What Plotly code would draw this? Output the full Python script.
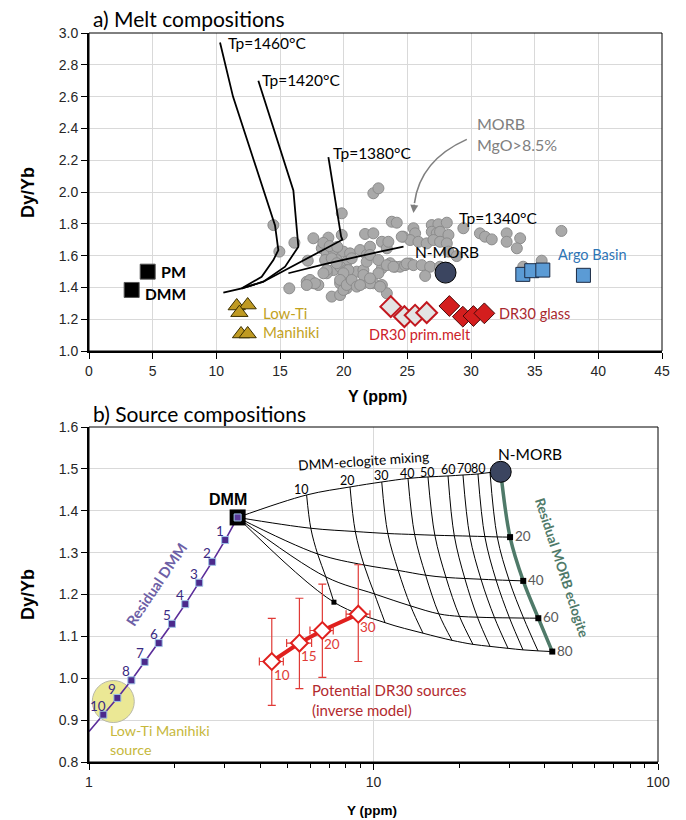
import math
import plotly.graph_objects as go

W, H = 686, 820

# ================= Panel a: melt compositions =================
# Tp melting paths (Y ppm, Dy/Yb)
tp1460_Y = [10.29, 11.31, 14.61, 14.87, 14.48, 13.56, 12.00, 10.55]
tp1460_R = [2.940, 2.600, 1.790, 1.635, 1.572, 1.467, 1.394, 1.367]
tp1420_Y = [13.30, 16.05, 16.44, 15.40, 13.69, 12.00]
tp1420_R = [2.700, 2.010, 1.656, 1.530, 1.436, 1.394]
tp1380_Y = [18.80, 19.80, 19.90, 18.60, 16.97, 13.69, 12.00]
tp1380_R = [2.220, 1.720, 1.700, 1.645, 1.572, 1.436, 1.394]
tp1340_Y = [15.66, 18.67, 22.86, 24.70]
tp1340_R = [1.489, 1.550, 1.625, 1.656]

# MORB MgO>8.5% (grey dots)
morb_Y = [14.48, 14.95, 16.13, 19.85, 19.85, 17.18, 17.62, 18.80, 15.73, 21.68,
          22.33, 22.33, 22.73, 18.28, 18.67, 19.19, 19.98, 20.50, 18.54, 19.46,
          20.24, 21.29, 21.81, 19.19, 19.72, 20.24, 21.03, 21.55, 17.10, 17.62,
          18.01, 18.67, 19.72, 20.24, 20.50, 21.55, 22.33, 19.06, 19.72, 19.98,
          19.06, 19.46, 20.63, 20.37, 19.98, 18.67, 18.41, 19.72, 20.24, 20.63,
          21.03, 17.36, 17.75, 17.10, 18.40, 18.90, 19.50, 23.78, 24.17, 25.48,
          25.61, 23.00, 23.39, 22.07, 21.81, 23.65, 24.04, 24.43, 24.82, 25.20,
          23.00, 22.73, 21.55, 22.07, 23.00, 21.29, 24.69, 25.22, 26.92, 27.44,
          28.10, 26.92, 27.31, 27.57, 28.23, 29.40, 30.70, 31.10, 31.63, 32.80,
          33.86, 32.80, 33.60, 35.55, 37.10, 34.10, 23.51, 24.56, 25.87, 26.52,
          27.05, 27.57, 28.10, 28.23, 28.88, 22.07, 22.73, 23.39, 23.91, 24.96,
          25.48, 26.13, 26.79, 27.57, 22.07, 26.40, 23.39, 22.86]
morb_R = [1.792, 1.625, 1.681, 1.866, 1.730, 1.568, 1.709, 1.713, 1.394, 1.736,
          1.740, 1.992, 2.023, 1.646, 1.614, 1.635, 1.625, 1.614, 1.572, 1.572,
          1.562, 1.635, 1.604, 1.509, 1.530, 1.509, 1.499, 1.509, 1.436, 1.426,
          1.415, 1.489, 1.426, 1.394, 1.426, 1.426, 1.426, 1.342, 1.352, 1.384,
          1.583, 1.552, 1.583, 1.509, 1.489, 1.509, 1.489, 1.447, 1.415, 1.447,
          1.405, 1.447, 1.426, 1.415, 1.680, 1.660, 1.655, 1.813, 1.807, 1.772,
          1.740, 1.687, 1.646, 1.656, 1.562, 1.552, 1.530, 1.530, 1.540, 1.550,
          1.520, 1.489, 1.478, 1.426, 1.415, 1.415, 1.719, 1.698, 1.792, 1.797,
          1.807, 1.750, 1.740, 1.750, 1.730, 1.772, 1.740, 1.719, 1.702, 1.740,
          1.709, 1.687, 1.646, 1.568, 1.755, 1.530, 1.687, 1.719, 1.687, 1.677,
          1.698, 1.687, 1.677, 1.625, 1.597, 1.604, 1.572, 1.540, 1.530, 1.550,
          1.540, 1.540, 1.530, 1.530, 1.457, 1.472, 1.363, 1.405]

pm_Y, pm_R = [4.61], [1.499]
dmm_a_Y, dmm_a_R = [3.35], [1.384]
nmorb_Y, nmorb_R = 28.0, 1.493
lowti_Y = [11.60, 12.46, 11.81, 11.94, 12.46]
lowti_R = [1.283, 1.289, 1.241, 1.107, 1.107]
prim_Y = [23.70, 24.77, 25.61, 26.52]
prim_R = [1.279, 1.216, 1.225, 1.241]
glass_Y = [28.30, 29.36, 30.19, 31.05]
glass_R = [1.283, 1.216, 1.220, 1.237]
argo_Y = [34.07, 34.77, 35.64, 38.83]
argo_R = [1.482, 1.505, 1.509, 1.476]

# ================= Panel b: source compositions =================
dmm_Y, dmm_R = 3.33, 1.384
resdmm_lab = ["1", "2", "3", "4", "5", "6", "7", "8", "9", "10"]
resdmm_Y = [3.01, 2.71, 2.44, 2.18, 1.957, 1.758, 1.569, 1.409, 1.258, 1.123]
resdmm_R = [1.330, 1.278, 1.228, 1.177, 1.130, 1.084, 1.039, 0.995, 0.953, 0.913]
resdmm_tail_Y, resdmm_tail_R = 1.0, 0.873

ecl_lab = ["", "20", "40", "60", "80"]
ecl_Y = [28.0, 30.2, 33.6, 37.96, 42.5]
ecl_R = [1.493, 1.337, 1.2325, 1.1434, 1.0637]

mix_lab = ["10", "20", "30", "40", "50", "60", "70", "80", "90"]
mix_Y = [
    [5.82, 8.27, 10.69, 13.22, 15.54, 18.28, 20.63, 23.29, 25.68],
    [6.02, 8.63, 11.23, 13.95, 16.43, 19.23, 21.80, 24.62, 27.22],
    [6.36, 9.26, 12.21, 15.25, 17.98, 20.94, 23.87, 26.96, 29.99],
    [6.80, 10.08, 13.50, 16.97, 20.06, 23.19, 26.63, 30.06, 33.70],
    [7.26, 10.98, 14.93, 18.88, 22.37, 25.68, 29.71, 33.54, 37.86],
]
mix_R = [
    [1.4377, 1.4568, 1.4687, 1.4771, 1.4807, 1.4831, 1.4854, 1.4878, 1.4914],
    [1.3582, 1.3504, 1.3456, 1.3432, 1.3415, 1.3403, 1.3394, 1.3384, 1.3375],
    [1.2969, 1.2706, 1.2575, 1.2461, 1.2408, 1.2382, 1.2365, 1.2348, 1.2337],
    [1.2420, 1.2014, 1.1728, 1.1537, 1.1477, 1.1458, 1.1446, 1.1442, 1.1437],
    [1.1816, 1.1327, 1.1076, 1.0905, 1.0809, 1.0761, 1.0714, 1.0678, 1.0654],
]
mix_top_lab_Y = [5.60, 8.07, 10.69, 13.15, 15.50, 18.31, 20.97, 23.38]
mix_top_lab_R = [1.4496, 1.4718, 1.4831, 1.4878, 1.4909, 1.4974, 1.4998, 1.5014]

dr_lab = ["10", "15", "20", "30"]
dr_Y = [4.39, 5.49, 6.61, 8.84]
dr_R = [1.040, 1.084, 1.114, 1.153]
dr_eR_plus = [0.103, 0.107, 0.111, 0.118]
dr_eR_minus = [0.105, 0.109, 0.112, 0.113]
dr_eY_plus = [0.43, 0.57, 0.61, 0.88]
dr_eY_minus = [0.42, 0.54, 0.63, 0.83]

lowti_src_Y, lowti_src_R = 1.217, 0.9444

# ================= figure =================
fig = go.Figure()
LAB = "Lato"
AR = "Liberation Sans"

def tr(**kw):
    fig.add_trace(go.Scatter(showlegend=False, hoverinfo="skip", **kw))

# --- panel a traces ---
tr(x=morb_Y, y=morb_R, mode="markers", xaxis="x", yaxis="y",
   marker=dict(size=11, color="#a9a9a9", line=dict(color="#8c8c8c", width=1)))
for xs, ys in [(tp1460_Y, tp1460_R), (tp1420_Y, tp1420_R), (tp1380_Y, tp1380_R), (tp1340_Y, tp1340_R)]:
    tr(x=xs, y=ys, mode="lines", xaxis="x", yaxis="y", line=dict(color="black", width=1.8))
tr(x=pm_Y + dmm_a_Y, y=pm_R + dmm_a_R, mode="markers", xaxis="x", yaxis="y",
   marker=dict(symbol="square", size=15, color="black", line=dict(color="#555", width=1)))
tr(x=[nmorb_Y], y=[nmorb_R], mode="markers", xaxis="x", yaxis="y",
   marker=dict(size=21, color="#3b4560", line=dict(color="black", width=1)))
tr(x=lowti_Y, y=lowti_R, mode="markers", xaxis="x", yaxis="y",
   marker=dict(symbol="triangle-up", size=15, color="#bf9a22", line=dict(color="#3a2f00", width=1)))
tr(x=prim_Y, y=prim_R, mode="markers", xaxis="x", yaxis="y",
   marker=dict(symbol="diamond", size=16, color="#e3e3e3", line=dict(color="#c2181f", width=2)))
tr(x=glass_Y, y=glass_R, mode="markers", xaxis="x", yaxis="y",
   marker=dict(symbol="diamond", size=16, color="#d41e1e", line=dict(color="#4a0a0a", width=1)))
tr(x=argo_Y, y=argo_R, mode="markers", xaxis="x", yaxis="y",
   marker=dict(symbol="square", size=14, color="#5b9bd5", line=dict(color="#1b2a44", width=1)))

# --- panel b traces ---
tr(x=[lowti_src_Y], y=[lowti_src_R], mode="markers", xaxis="x2", yaxis="y2",
   marker=dict(size=42, color="rgba(232,228,130,0.85)", line=dict(color="#b8b8a8", width=1)))
for m in range(5):
    tr(x=[dmm_Y] + mix_Y[m] + [ecl_Y[m]], y=[dmm_R] + mix_R[m] + [ecl_R[m]],
       mode="lines", xaxis="x2", yaxis="y2", line=dict(color="black", width=1, shape="spline"))
for k in range(len(mix_lab)):
    tr(x=[mix_Y[m][k] for m in range(5)], y=[mix_R[m][k] for m in range(5)],
       mode="lines", xaxis="x2", yaxis="y2", line=dict(color="black", width=1, shape="spline"))
tr(x=[mix_Y[4][0]], y=[mix_R[4][0]], mode="markers", xaxis="x2", yaxis="y2",
   marker=dict(symbol="square", size=5, color="black"))
tr(x=ecl_Y, y=ecl_R, mode="lines", xaxis="x2", yaxis="y2",
   line=dict(color="#4f7a69", width=3.5, shape="spline"))
tr(x=ecl_Y[1:], y=ecl_R[1:], mode="markers", xaxis="x2", yaxis="y2",
   marker=dict(symbol="square", size=6, color="black"))
tr(x=[resdmm_tail_Y] + resdmm_Y[::-1] + [dmm_Y], y=[resdmm_tail_R] + resdmm_R[::-1] + [dmm_R],
   mode="lines", xaxis="x2", yaxis="y2", line=dict(color="#5b2d9a", width=1.6))
tr(x=resdmm_Y, y=resdmm_R, mode="markers", xaxis="x2", yaxis="y2",
   marker=dict(symbol="square", size=7, color="#4b2a8c", line=dict(color="#9dc3e6", width=1)))
tr(x=[dmm_Y], y=[dmm_R], mode="markers", xaxis="x2", yaxis="y2",
   marker=dict(symbol="square", size=16, color="black"))
tr(x=[dmm_Y], y=[dmm_R], mode="markers", xaxis="x2", yaxis="y2",
   marker=dict(symbol="square", size=7, color="#5b3a9a", line=dict(color="#9dc3e6", width=1)))
tr(x=[ecl_Y[0]], y=[ecl_R[0]], mode="markers", xaxis="x2", yaxis="y2",
   marker=dict(size=21, color="#3b4560", line=dict(color="black", width=1)))
tr(x=dr_Y, y=dr_R, mode="lines", xaxis="x2", yaxis="y2", line=dict(color="#e0201e", width=4))
tr(x=dr_Y, y=dr_R, mode="markers", xaxis="x2", yaxis="y2",
   marker=dict(symbol="diamond", size=13, color="white", line=dict(color="#e0201e", width=2)),
   error_y=dict(type="data", symmetric=False, array=dr_eR_plus, arrayminus=dr_eR_minus,
                color="#e03a36", thickness=1.2, width=4),
   error_x=dict(type="data", symmetric=False, array=dr_eY_plus, arrayminus=dr_eY_minus,
                color="#e03a36", thickness=1.2, width=4))

ann = []
def A(text, x, y, xref="x", yref="y", size=15, color="black", family=LAB, **kw):
    d = dict(text=text, x=x, y=y, xref=xref, yref=yref, showarrow=False,
             font=dict(size=size, color=color, family=family), yanchor="middle")
    d.update(kw)
    ann.append(d)

# panel a labels
A("Tp=1460°C", 10.76, 2.937, xanchor="left", size=15.5)
A("Tp=1420°C", 13.43, 2.704, xanchor="left", size=15.5)
A("Tp=1380°C", 19.04, 2.247, xanchor="left", size=15.5)
A("Tp=1340°C", 28.88, 1.838, xanchor="left", size=15.5)
A("MORB<br>MgO&gt;8.5%", 30.32, 2.365, xanchor="left", color="#808080", size=16, align="left")
A("N-MORB", 25.45, 1.6245, xanchor="left", size=15.5)
A("<b>PM</b>", 5.5, 1.503, xanchor="left", size=16)
A("<b>DMM</b>", 4.24, 1.358, xanchor="left", size=15.5)
A("Low-Ti", 13.51, 1.239, xanchor="left", color="#c2a21e", size=15)
A("Manihiki", 13.51, 1.119, xanchor="left", color="#c2a21e", size=15)
A("DR30 prim.melt", 26.0, 1.101, xanchor="center", color="#cc2229", size=14.5)
A("DR30 glass", 32.05, 1.233, xanchor="left", color="#a8282d", size=14.5)
A("Argo Basin", 36.69, 1.604, xanchor="left", color="#2e75b6", size=14.5)
ann.append(dict(x=25.48, y=1.868, ax=25.56, ay=1.93, xref="x", yref="y", axref="x", ayref="y",
                text="", showarrow=True, arrowhead=2, arrowsize=1, arrowwidth=1.6, arrowcolor="#7f7f7f"))

# panel b labels (log axis -> log10 positions)
L = math.log10
A("<b>DMM</b>", L(dmm_Y) - 0.035, 1.4258, "x2", "y2", size=16, family=AR, xanchor="center")
A("DMM-eclogite mixing", 0.9631, 1.5189, "x2", "y2", size=13.7, textangle=-4, xanchor="center")
for t, xv, yv in zip(mix_lab, mix_top_lab_Y, mix_top_lab_R):
    A(t, L(xv), yv, "x2", "y2", size=12.5, xanchor="center")
A("N-MORB", 1.5501, 1.5356, "x2", "y2", size=15.5, xanchor="center")
A("<b>Residual MORB eclogite</b>", 1.6608, 1.2647, "x2", "y2", size=13.5, color="#4f7a69",
  textangle=72, xanchor="center")
for t, xv, yv in zip(ecl_lab[1:], ecl_Y[1:], ecl_R[1:]):
    A(t, L(xv), yv, "x2", "y2", size=13.5, color="#595959", xshift=13, yshift=1, xanchor="center")
for t, xv, yv in zip(resdmm_lab, resdmm_Y, resdmm_R):
    A(t, L(xv), yv, "x2", "y2", size=13.5, color="#3a2a82", xshift=-5, yshift=9, xanchor="center")
A("<b>Residual DMM</b>", 0.2373, 1.2229, "x2", "y2", size=14.5, color="#6d60a6", textangle=-56,
  xanchor="center")
for t, xv, yv in zip(dr_lab, dr_Y, dr_R):
    A(t, L(xv), yv, "x2", "y2", size=13.5, color="#e03a36", xshift=10, yshift=-13, xanchor="center")
A("Potential DR30 sources<br>(inverse model)", 0.7768, 0.9484, "x2", "y2", size=15,
  color="#b22a2e", xanchor="left", align="left")
A("Low-Ti Manihiki<br>source", 0.0668, 0.853, "x2", "y2", size=14.3, color="#c6b83c",
  xanchor="left", align="left")

# titles
A("a) Melt compositions", 91 / W, 1 - 18 / H, "paper", "paper", size=21, xanchor="left")
A("b) Source compositions", 91 / W, 1 - 413 / H, "paper", "paper", size=21, xanchor="left")
A("<b>Y (ppm)</b>", 377 / W, 1 - 396 / H, "paper", "paper", size=16, family=AR, xanchor="center")
A("<b>Y (ppm)</b>", 372 / W, 1 - 810 / H, "paper", "paper", size=13.5, family=AR, xanchor="center")
A("<b>Dy/Yb</b>", 28 / W, 1 - 192 / H, "paper", "paper", size=18, family=AR, textangle=-90,
  xanchor="center")
A("<b>Dy/Yb</b>", 28 / W, 1 - 594 / H, "paper", "paper", size=18, family=AR, textangle=-90,
  xanchor="center")

shapes = [
    dict(type="path", xref="x", yref="y", path="M 29.67,2.331 Q 26.0,2.2 25.56,1.93",
         line=dict(color="#7f7f7f", width=1.6)),
    dict(type="rect", xref="x domain", yref="y domain", x0=0, x1=1, y0=0, y1=1,
         line=dict(color="black", width=1)),
    dict(type="rect", xref="x2 domain", yref="y2 domain", x0=0, x1=1, y0=0, y1=1,
         line=dict(color="black", width=1)),
]

axis_common = dict(showline=True, linecolor="black", linewidth=2, ticks="outside", ticklen=6,
                   tickcolor="black", tickfont=dict(family=AR, size=14, color="#262626"),
                   gridcolor="#d9d9d9", gridwidth=1, zeroline=False, automargin=False)

fig.update_layout(
    width=W, height=H, margin=dict(l=0, r=0, t=0, b=0, autoexpand=False),
    paper_bgcolor="white", plot_bgcolor="white", template="none",
    xaxis=dict(domain=[89 / W, 662 / W], range=[0, 45], dtick=5, anchor="y", **axis_common),
    yaxis=dict(domain=[1 - 351 / H, 1 - 33 / H], range=[1.0, 3.0], dtick=0.2, tickformat=".1f",
               anchor="x", **axis_common),
    xaxis2=dict(domain=[89 / W, 658 / W], type="log", range=[0, 2], dtick=1, anchor="y2",
                minor=dict(ticks="outside", ticklen=4, tickcolor="black", dtick="D1", showgrid=False),
                **axis_common),
    yaxis2=dict(domain=[1 - 762 / H, 1 - 427 / H], range=[0.8, 1.6], dtick=0.1, tickformat=".1f",
                anchor="x2", **axis_common),
    annotations=ann, shapes=shapes,
)
fig.write_html("out.html")
